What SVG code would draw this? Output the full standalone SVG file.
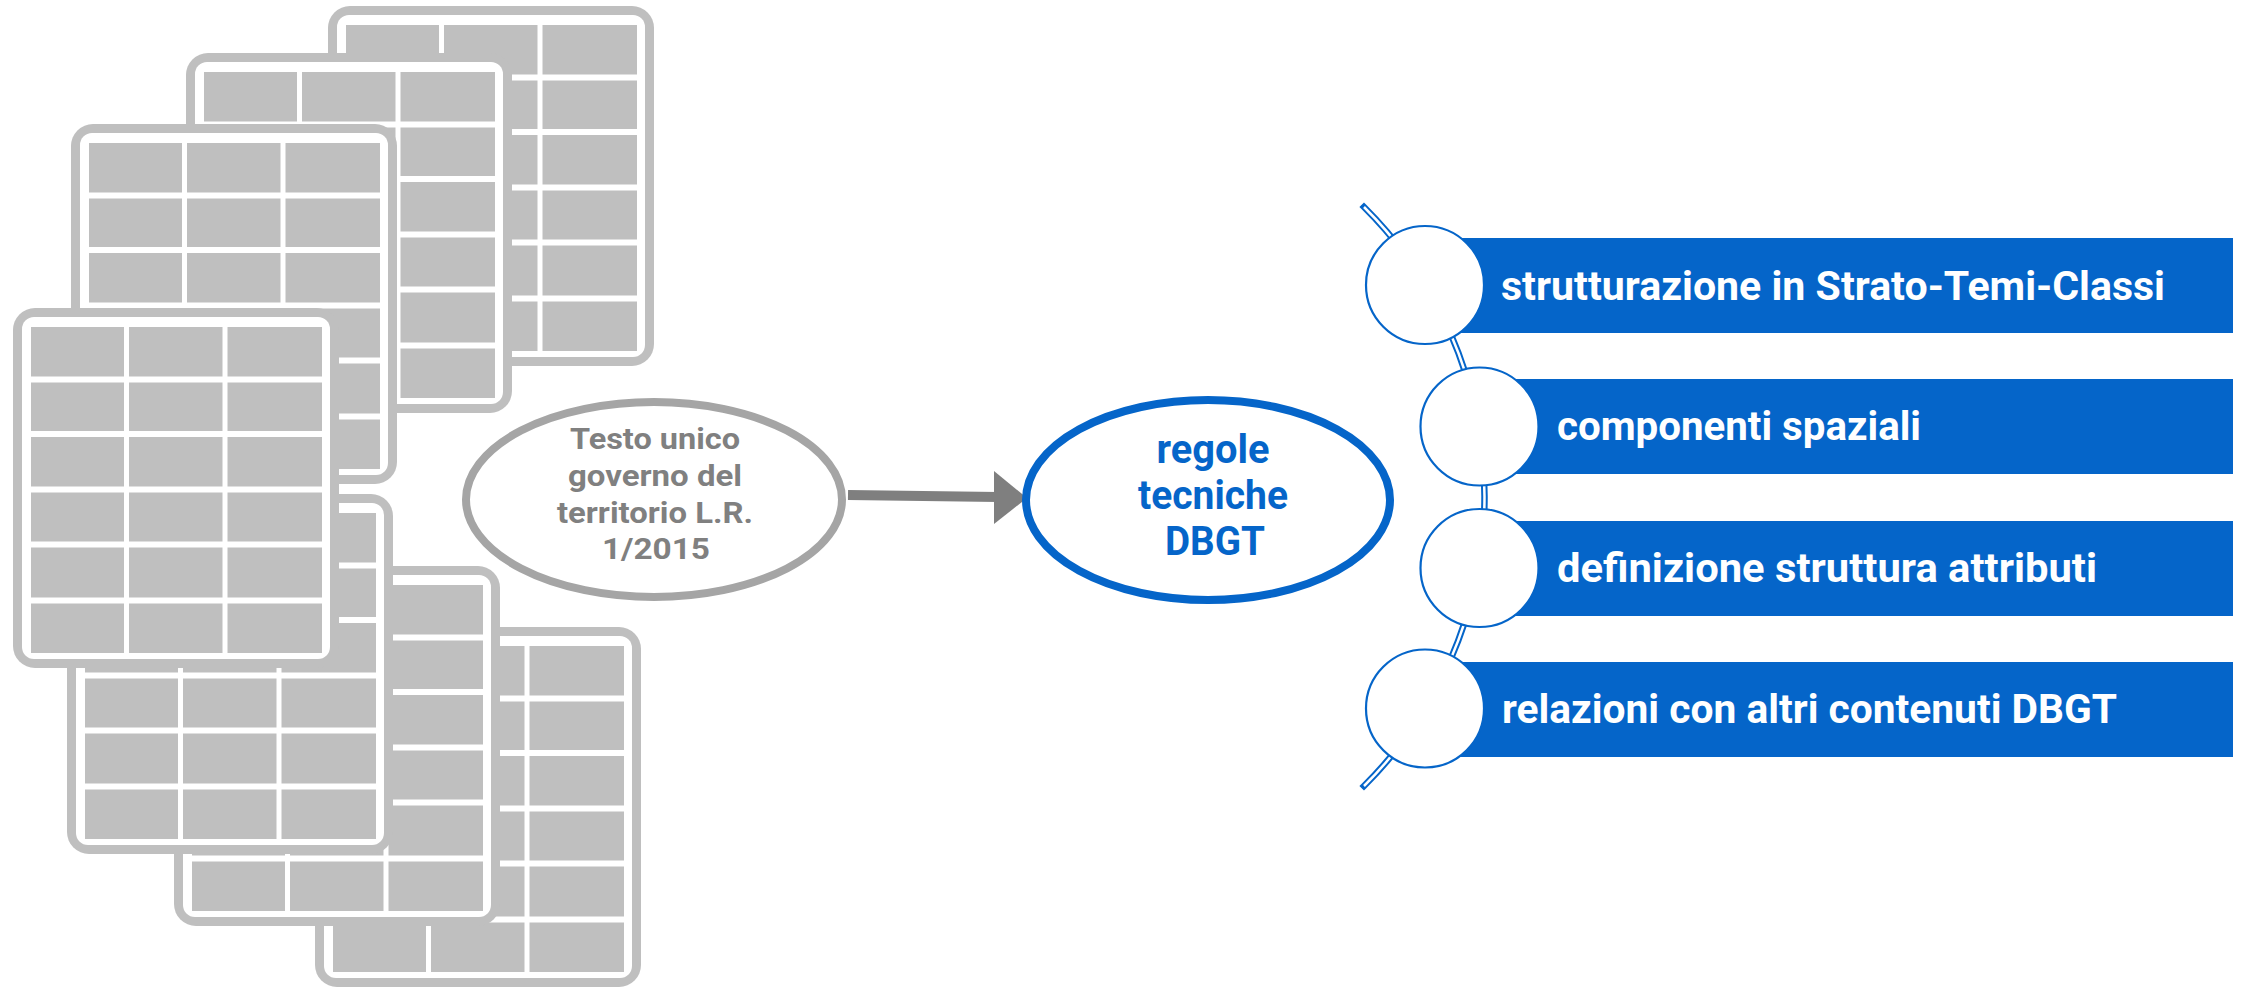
<svg xmlns="http://www.w3.org/2000/svg" xmlns:xlink="http://www.w3.org/1999/xlink" width="2244" height="988" viewBox="0 0 2244 988">
<style>
.gtxt{font-family:Roboto,"Liberation Sans",sans-serif;font-weight:700;font-size:30px;fill:#808080;text-anchor:middle}
.btxt{font-family:Roboto,"Liberation Sans",sans-serif;font-weight:700;font-size:41px;fill:#0565c9;text-anchor:middle}
.wtxt{font-family:Roboto,"Liberation Sans",sans-serif;font-weight:700;font-size:40px;fill:#ffffff}
.bar{fill:#0565c9}
.ring{fill:#ffffff;stroke:#0565c9;stroke-width:2.2}
</style>
<defs>
<symbol id="tbl" overflow="visible">
<rect x="0" y="0" width="326" height="360" rx="22" fill="#bfbfbf"/>
<rect x="9" y="9" width="308" height="342" rx="12" fill="#ffffff"/>
<rect x="18" y="19" width="291" height="326" fill="#bfbfbf"/>
<g stroke="#ffffff" stroke-width="5">
<line x1="113.5" y1="19" x2="113.5" y2="345"/>
<line x1="212" y1="19" x2="212" y2="345"/>
</g>
<g stroke="#ffffff" stroke-width="6">
<line x1="18" y1="71.5" x2="309" y2="71.5"/>
<line x1="18" y1="126" x2="309" y2="126"/>
<line x1="18" y1="181.5" x2="309" y2="181.5"/>
<line x1="18" y1="236.5" x2="309" y2="236.5"/>
<line x1="18" y1="292.5" x2="309" y2="292.5"/>
</g>
</symbol>
</defs>
<rect width="2244" height="988" fill="#ffffff"/>

<g id="table-a"><use xlink:href="#tbl" x="328" y="6"/></g>
<g id="table-b"><use xlink:href="#tbl" x="186" y="53"/></g>
<g id="table-c"><use xlink:href="#tbl" x="71" y="124"/></g>
<g id="table-g"><use xlink:href="#tbl" x="315" y="627"/></g>
<g id="table-f"><use xlink:href="#tbl" x="174" y="566"/></g>
<g id="table-e"><use xlink:href="#tbl" x="67" y="494"/></g>
<g id="table-d"><use xlink:href="#tbl" x="13" y="308"/></g>

<g id="connectors">
<line x1="848" y1="495" x2="998" y2="497" stroke="#7f7f7f" stroke-width="10"/>
<polygon points="994,471 1027,498 994,524" fill="#7f7f7f"/>
<path d="M 1364 207 A 408 408 0 0 1 1364 786" fill="none" stroke="#0565c9" stroke-width="6.5" stroke-linecap="square"/>
<path d="M 1364 207 A 408 408 0 0 1 1364 786" fill="none" stroke="#ffffff" stroke-width="2.5"/>
</g>

<g id="node-testo">
<ellipse cx="654" cy="499.5" rx="188" ry="97.5" fill="#ffffff" stroke="#a5a5a5" stroke-width="8"/>
<text class="gtxt" x="655" y="449" textLength="170" lengthAdjust="spacingAndGlyphs">Testo unico</text>
<text class="gtxt" x="655" y="486" textLength="174" lengthAdjust="spacingAndGlyphs">governo del</text>
<text class="gtxt" x="655" y="523" textLength="196" lengthAdjust="spacingAndGlyphs">territorio L.R.</text>
<text class="gtxt" x="656" y="559" textLength="108" lengthAdjust="spacingAndGlyphs">1/2015</text>
</g>

<g id="node-regole">
<ellipse cx="1208" cy="500" rx="182" ry="100" fill="#ffffff" stroke="#0565c9" stroke-width="8"/>
<text class="btxt" x="1213" y="463" textLength="113" lengthAdjust="spacingAndGlyphs">regole</text>
<text class="btxt" x="1213" y="509" textLength="150" lengthAdjust="spacingAndGlyphs">tecniche</text>
<text class="btxt" x="1215" y="555" textLength="100" lengthAdjust="spacingAndGlyphs">DBGT</text>
</g>

<g id="item-1">
<rect class="bar" x="1424" y="238" width="809" height="95"/>
<circle class="ring" cx="1425" cy="285" r="59"/>
<text class="wtxt" x="1501" y="300" textLength="664" lengthAdjust="spacingAndGlyphs">strutturazione in Strato-Temi-Classi</text>
</g>
<g id="item-2">
<rect class="bar" x="1479" y="379" width="754" height="95"/>
<circle class="ring" cx="1479.5" cy="426.5" r="59"/>
<text class="wtxt" x="1557" y="440" textLength="364" lengthAdjust="spacingAndGlyphs">componenti spaziali</text>
</g>
<g id="item-3">
<rect class="bar" x="1479" y="521" width="754" height="95"/>
<circle class="ring" cx="1479.5" cy="568" r="59"/>
<text class="wtxt" x="1557" y="582" textLength="540" lengthAdjust="spacingAndGlyphs">definizione struttura attributi</text>
</g>
<g id="item-4">
<rect class="bar" x="1424" y="662" width="809" height="95"/>
<circle class="ring" cx="1425" cy="708.5" r="59"/>
<text class="wtxt" x="1502" y="723" textLength="615" lengthAdjust="spacingAndGlyphs">relazioni con altri contenuti DBGT</text>
</g>
</svg>
